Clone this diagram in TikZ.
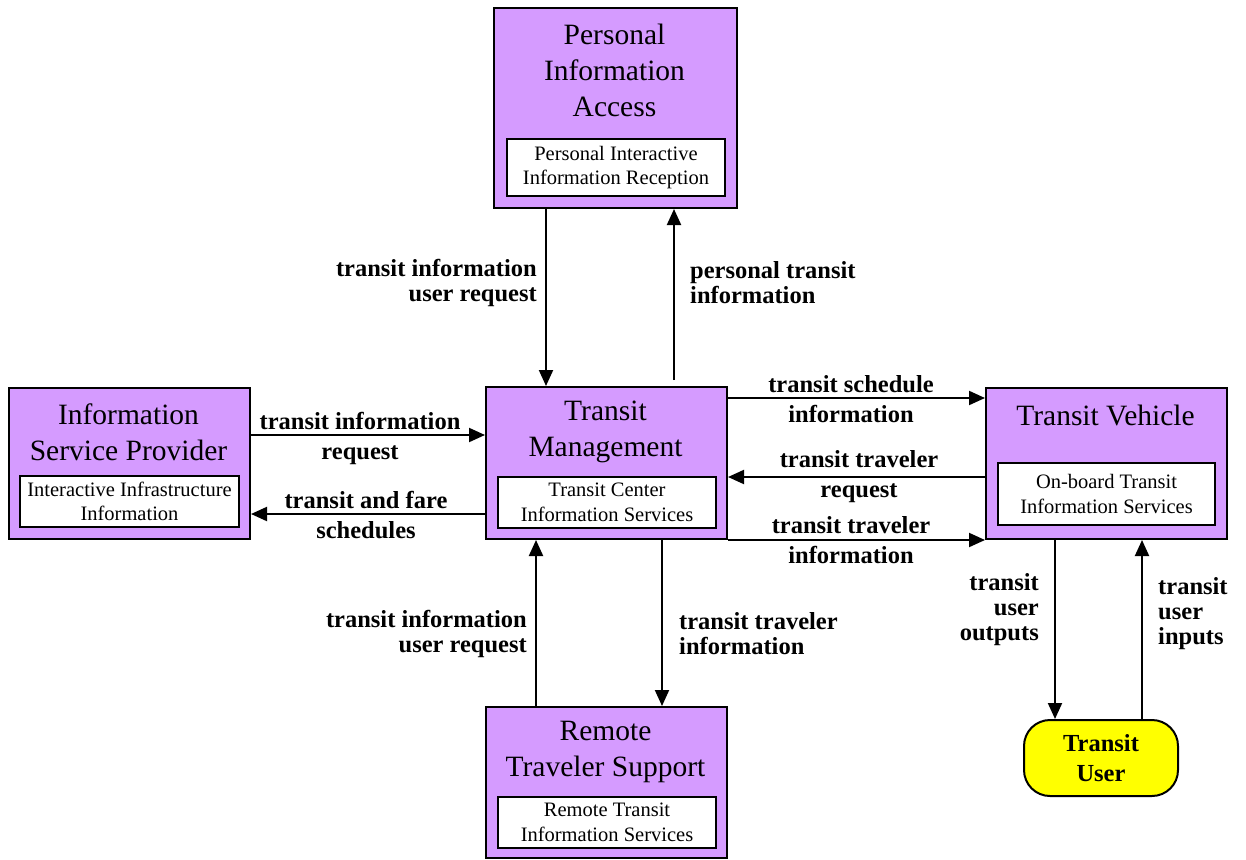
\documentclass[tikz,border=0pt]{standalone}
\usepackage{fontspec}
\setmainfont{Liberation Serif}
\usetikzlibrary{arrows.meta}
\definecolor{boxviolet}{RGB}{213,155,255}
\definecolor{useryellow}{RGB}{255,255,0}
\begin{document}
\begin{tikzpicture}[x=1pt,y=-1pt,
  box/.style={draw=black,line width=2pt,fill=boxviolet,anchor=north west,inner sep=0pt},
  title/.style={align=center,font=\fontsize{29.5}{36}\selectfont,inner sep=0pt},
  subbox/.style={draw=black,line width=2pt,fill=white,anchor=north west,align=center,
    inner sep=0pt,font=\fontsize{20.5}{24.5}\selectfont},
  lbl/.style={font=\bfseries\fontsize{24.5}{25}\selectfont,inner sep=0pt},
  arr/.style={line width=2pt,-{Triangle[length=16pt,width=14pt]}},
  user/.style={draw=black,line width=2pt,fill=useryellow,rounded corners=26pt,
    anchor=north west,inner sep=0pt,align=center,font=\bfseries\fontsize{24.5}{30}\selectfont}]
\useasboundingbox (0,0) rectangle (1246,859);

% Personal Information Access
\node[box,minimum width=243,minimum height=200] (pia) at (493,7) {};
\node[title] (piaT) at (614.5,70) {Personal\\Information\\Access};
\node[subbox,minimum width=218,minimum height=57] (piaS) at (506,138) {Personal Interactive\\Information Reception};

% Information Service Provider
\node[box,minimum width=241,minimum height=151] (isp) at (8,387) {};
\node[title] (ispT) at (128.5,432) {Information\\Service Provider};
\node[subbox,minimum width=219,minimum height=51] (ispS) at (19,475) {Interactive Infrastructure\\Information};

% Transit Management
\node[box,minimum width=241,minimum height=152] (tm) at (485,386) {};
\node[title] (tmT) at (605.5,432) {Transit\\Management};
\node[subbox,minimum width=218,minimum height=51] (tmS) at (497,476) {Transit Center\\Information Services};

% Transit Vehicle
\node[box,minimum width=241,minimum height=151] (tv) at (985,387) {};
\node[title] (tvT) at (1105.5,415) {Transit Vehicle};
\node[subbox,minimum width=217,minimum height=62] (tvS) at (997,462) {On-board Transit\\Information Services};

% Remote Traveler Support
\node[box,minimum width=241,minimum height=151] (rts) at (485,706) {};
\node[title] (rtsT) at (605.5,752) {Remote\\Traveler Support};
\node[subbox,minimum width=218,minimum height=51] (rtsS) at (497,796) {Remote Transit\\Information Services};

% Transit User terminator
\node[user,minimum width=154,minimum height=76] (tu) at (1023,719) {Transit\\User};

% Flows (shifts are in page coordinates: positive yshift moves up)
\draw[arr] ([xshift=-69.5]pia.south) -- ([xshift=-60.5]tm.north);
\draw[arr] ([xshift=67.5,yshift=6]tm.north) -- ([xshift=58.5]pia.south);
\draw[arr] ([yshift=28.5]isp.east) -- ([yshift=28]tm.west);
\draw[arr] ([yshift=-51]tm.west) -- ([yshift=-50.5]isp.east);
\draw[arr] ([yshift=65]tm.east) -- ([yshift=65.5]tv.west);
\draw[arr] ([yshift=-13.5]tv.west) -- ([yshift=-14]tm.east);
\draw[arr] (tm.south east) -- (tv.south west);
\draw[arr] ([xshift=-70.5]rts.north) -- ([xshift=-70.5]tm.south);
\draw[arr] ([xshift=55.5]tm.south) -- ([xshift=55.5]rts.north);
\draw[arr] ([xshift=-51.5]tv.south) -- ([xshift=-46]tu.north);
\draw[arr] ([xshift=41]tu.north) -- ([xshift=35.5]tv.south);

% Flow labels
\node[lbl,align=right,anchor=east] (l1) at (537,283) {transit information\\user request};
\node[lbl,align=left,anchor=west] (l2) at (690,283) {personal transit\\information};
\node[lbl,align=center] (l3) at (360,438) {transit information\\[5pt]request};
\node[lbl,align=center] (l4) at (366,515) {transit and fare\\[5pt]schedules};
\node[lbl,align=center] (l5) at (851,399) {transit schedule\\[5pt]information};
\node[lbl,align=center] (l6) at (859,477) {transit traveler\\[5pt]request};
\node[lbl,align=center] (l7) at (851,540) {transit traveler\\[5pt]information};
\node[lbl,align=right,anchor=east] (l8) at (527,634) {transit information\\user request};
\node[lbl,align=left,anchor=west] (l9) at (679,634) {transit traveler\\information};
\node[lbl,align=right,anchor=east] (l10) at (1039,610) {transit\\user\\outputs};
\node[lbl,align=left,anchor=west] (l11) at (1158,614) {transit\\user\\inputs};
\end{tikzpicture}
\end{document}
